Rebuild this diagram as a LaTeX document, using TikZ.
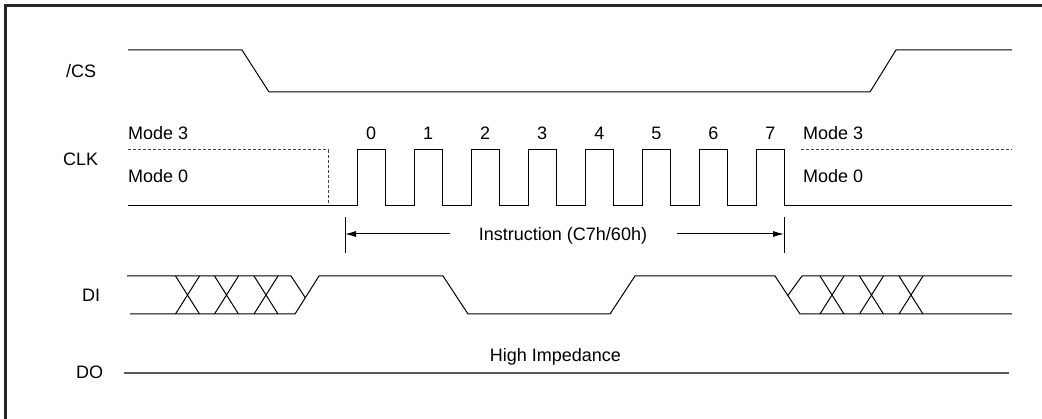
\documentclass[tikz,border=0pt]{standalone}
\usepackage{fontspec}
\setmainfont{Liberation Sans}
\usetikzlibrary{arrows.meta}
\begin{document}
\begin{tikzpicture}[x=1pt,y=-1pt,
  sig/.style={line width=1pt, draw=black},
  dashline/.style={line width=1pt, draw=black!75, dash pattern=on 3pt off 2pt},
  lbl/.style={inner sep=0pt, anchor=base west, font=\fontsize{18}{21}\selectfont},
  clbl/.style={inner sep=0pt, anchor=base, font=\fontsize{18}{21}\selectfont},
  arr/.style={line width=1pt, -{Latex[length=11pt,width=6pt]}},
  frame/.style={line width=2.2pt, draw=black!85}]
\useasboundingbox (0,0) rectangle (1042,419);
% frame (top and left edges visible)
\draw[frame] (5.5,419) -- (5.5,5.5) -- (1042,5.5);

% signal names
\node[lbl] (ncs)  at (66,77.5) {/CS};
\node[lbl] (nclk) at (63,166) {CLK};
\node[lbl] (ndi)  at (82,302) {DI};
\node[lbl] (ndo)  at (76,379) {DO};

% /CS
\draw[sig] (128,50) -- (242,50) -- (269,92) -- (870,92) -- (896,50) -- (1012,50);

% CLK
\draw[dashline] (128,150) -- (328,150) -- (328,206);
\draw[dashline] (801,150) -- (1012,150);
\draw[sig] (128,206) -- (357,206)
  \foreach \i in {0,...,7}{ -- ({357+57*\i},206) -- ({357+57*\i},150) -- ({385.5+57*\i},150) -- ({385.5+57*\i},206)}
  -- (1012,206);
\node[lbl] (m3l) at (128,140) {Mode 3};
\node[lbl] (m0l) at (128,183) {Mode 0};
\node[lbl] (m3r) at (803,140) {Mode 3};
\node[lbl] (m0r) at (803,183) {Mode 0};
\foreach \i in {0,...,7}{
  \node[clbl] (num\i) at ({371.25+57*\i},140) {\i};
}

% Instruction span
\coordinate (lt1) at (345,217);
\coordinate (lt2) at (345,253);
\coordinate (rt1) at (784,217);
\coordinate (rt2) at (784,253);
\draw[sig] (lt1) -- (lt2);
\draw[sig] (rt1) -- (rt2);
\node[clbl] (instr) at (563,241) {Instruction (C7h/60h)};
\coordinate (la) at (450,234);
\coordinate (lh) at (345,234);
\coordinate (ra) at (677,234);
\coordinate (rh) at (784,234);
\draw[arr] (la) -- (lh);
\draw[arr] (ra) -- (rh);

% DI
\draw[sig] (127,276) -- (291,276) -- (305.3,297.7);
\draw[sig] (130,314) -- (295,314) -- (319,276) -- (443,276) -- (468,314) -- (610,314) -- (635,276) -- (775,276) -- (800,314) -- (1012,314);
\draw[sig] (787.8,295.5) -- (802,276) -- (1012,276);
\foreach \c in {187.5,226.5,266,832,871.5,911}{
  \draw[sig] ({\c-12},276) -- ({\c+12},314) ({\c-12},314) -- ({\c+12},276);
}

% DO
\draw[line width=1.6pt, draw=black!65] (124,373) -- (1009,373);
\node[clbl] (hiz) at (555.5,362) {High Impedance};
\end{tikzpicture}
\end{document}
